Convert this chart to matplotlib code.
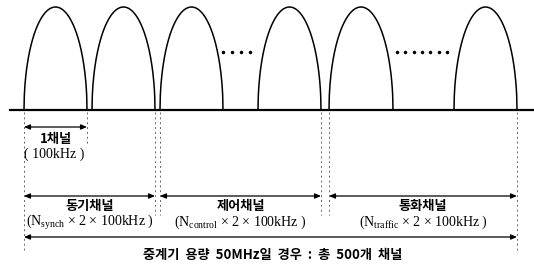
import matplotlib.pyplot as plt
import numpy as np

plt.rcParams['font.family'] = ['Noto Sans CJK KR', 'DejaVu Sans']
plt.rcParams['mathtext.fontset'] = 'custom'
plt.rcParams['mathtext.rm'] = 'Liberation Serif'
plt.rcParams['mathtext.it'] = 'Liberation Serif'

# channel humps (left edge, right edge) in pixel units
hump_left = [24, 92, 160, 258, 329, 454]
hump_right = [87, 155, 223, 321, 393, 517]
hump_top = 7
base_y = 110

# ellipsis dots between humps
dots_x = [[223, 232, 241, 250], [397, 405, 414, 422, 430, 439, 447]]
dots_y = 52

# dashed guide lines: x, bottom end
guide_x = [24, 87, 155, 160, 321, 329, 517]
guide_end = [250, 145, 215, 215, 215, 215, 250]

# spans: (x0, x1, y, title, subtitle)
span_x0 = [24, 24, 160, 329, 24]
span_x1 = [87, 155, 321, 517, 517]
span_y = [127, 196, 196, 196, 237]
span_title = ["1채널", "동기채널", "제어채널", "통화채널",
              "중계기  용량  50MHz일  경우  :  총  500개  채널"]
span_sub = ["( 100kHz )",
            r"(N$_{\mathrm{synch}}$ × 2 × 100kHz )",
            r"(N$_{\mathrm{control}}$ × 2 × 100kHz )",
            r"(N$_{\mathrm{traffic}}$ × 2 × 100kHz )",
            ""]

fig = plt.figure(figsize=(5.34, 2.64), dpi=100)
ax = fig.add_axes([0, 0, 1, 1])
ax.set_xlim(0, 534)
ax.set_ylim(264, 0)
ax.axis('off')

# humps
for l, r in zip(hump_left, hump_right):
    c = (l + r) / 2
    w = (r - l) / 2
    u = np.linspace(-1, 1, 200)
    h = base_y - hump_top
    ax.plot(c + u * w, base_y - h * np.clip(1 - u**2, 0, None)**0.5,
            color='black', lw=1.1)

ax.plot([10, 534], [base_y, base_y], color='black', lw=1.6)

for xs in dots_x:
    ax.plot(xs, [dots_y] * len(xs), ls='none', marker='o', ms=1.5, color='black')

for x, y1 in zip(guide_x, guide_end):
    ax.plot([x, x], [base_y + 2, y1], color='#666666', lw=0.7, ls=(0, (2, 3)))

serif = ['Liberation Serif', 'Noto Sans CJK KR']
for x0, x1, y, t, s in zip(span_x0, span_x1, span_y, span_title, span_sub):
    ax.annotate('', xy=(x0, y), xytext=(x1, y),
                arrowprops=dict(arrowstyle='<|-|>,head_length=0.35,head_width=0.15',
                                color='black', lw=0.9, shrinkA=0, shrinkB=0))
    cx = (x0 + x1) / 2
    if t == "1채널":
        ax.text(cx, y + 12, t, ha='center', va='center', fontsize=9.5,
                fontweight='bold')
        ax.text(cx - 1, y + 27, s, ha='center', va='center', fontsize=10,
                family=serif)
    elif s:
        ax.text(cx, y + 10, t, ha='center', va='center', fontsize=9.5,
                fontweight='bold')
        ax.text(cx, y + 26, s, ha='center', va='center', fontsize=10,
                family=serif)
    else:
        ax.text(cx + 2, y + 18, t, ha='center', va='center', fontsize=9.5,
                fontweight='bold')

fig.savefig('out.png', dpi=100)
